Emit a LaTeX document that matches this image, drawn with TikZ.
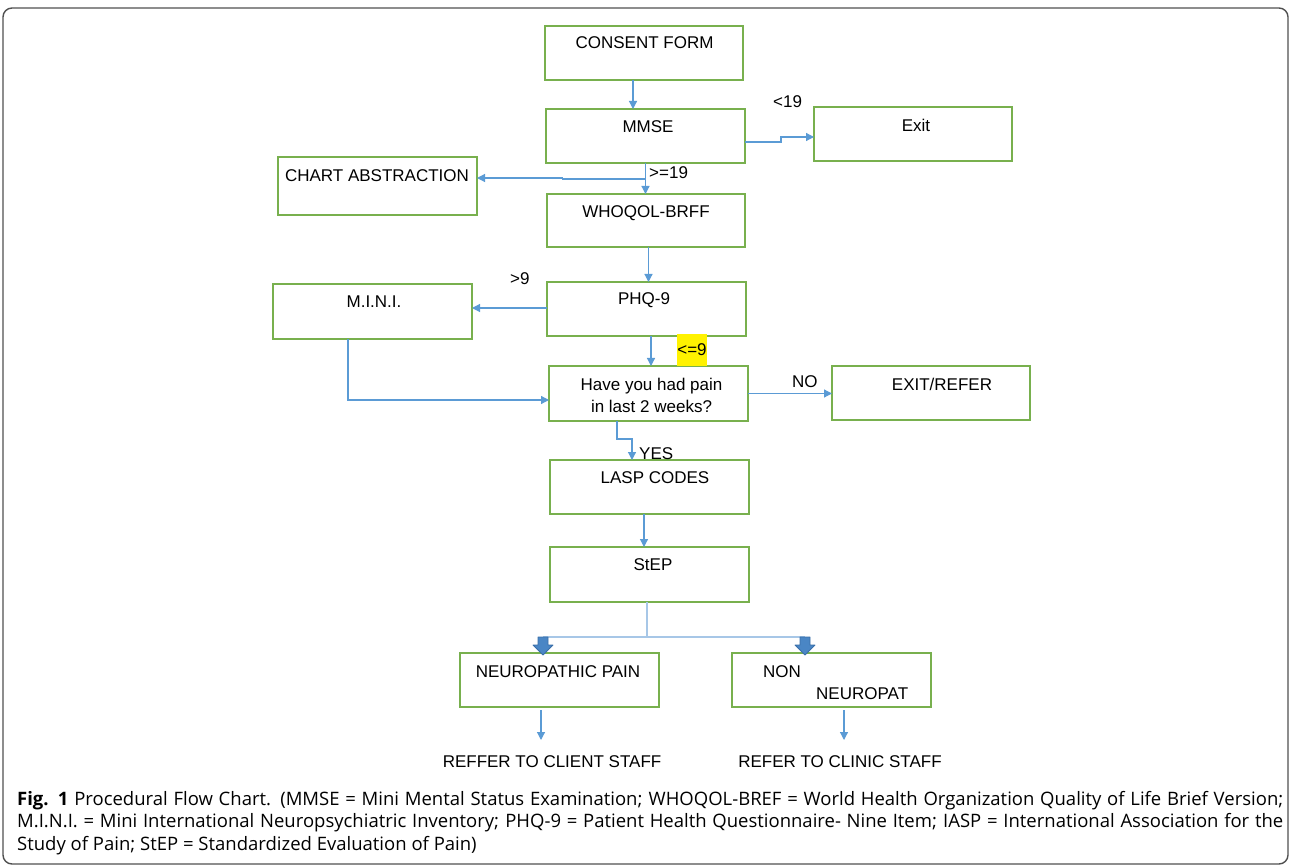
\documentclass[tikz,border=0pt]{standalone}
\usepackage{fontspec}
\setmainfont{Liberation Sans}
\newfontfamily\capfont{Open Sans}
\usetikzlibrary{arrows.meta,calc}
\definecolor{boxgreen}{HTML}{78B04E}
\definecolor{arrblue}{HTML}{5B9BD5}
\definecolor{lineblue}{HTML}{A7C7E7}
\definecolor{blockblue}{HTML}{4A86C5}
\definecolor{blockedge}{HTML}{3A6EA8}
\definecolor{framegray}{HTML}{505050}
\newcommand\mkbox[5]{\node[box, minimum width={#4-#2}, minimum height={#5-#3}] (#1) at ({(#2+#4)/2},{(#3+#5)/2}) {};}
\begin{document}
\begin{tikzpicture}[x=1pt,y=-1pt,
  box/.style={draw=boxgreen, line width=1.6pt, rectangle, inner sep=0pt, outer sep=0pt},
  txt/.style={font=\fontsize{17}{22}\selectfont, inner sep=0pt, anchor=base},
  ltxt/.style={txt, anchor=base west},
  arr/.style={draw=arrblue, line width=1.2pt, -{Triangle[length=8pt,width=8pt]}},
  thinln/.style={draw=lineblue, line width=1.4pt},
  blockarr/.style={fill=blockblue, draw=blockedge, line width=0.8pt, line join=round}
]
\useasboundingbox (0,0) rectangle (1290,866);
\draw[framegray, line width=1.4pt, rounded corners=9pt] (3,8) rectangle (1288,864);

% boxes
\mkbox{consent}{545}{26}{743}{80}
\mkbox{mmse}{546}{109}{745}{163}
\mkbox{exitb}{814}{107}{1012}{161}
\mkbox{chart}{278}{157}{477}{215}
\mkbox{whoqol}{547}{194}{745}{247}
\mkbox{phq}{547}{282}{746}{336}
\mkbox{mini}{273}{284}{472}{339}
\mkbox{pain}{549}{366}{748}{421}
\mkbox{exitref}{832}{366}{1030}{420}
\mkbox{lasp}{550}{460}{749}{514}
\mkbox{stepb}{550}{547}{749}{602}
\mkbox{neuro}{460}{653}{659}{707}
\mkbox{nonneuro}{732}{653}{931}{707}

% box texts
\node[txt] (consentT) at (644.5,49) {CONSENT FORM};
\node[txt] (mmseT) at (648,133) {MMSE};
\node[txt] (exitT) at (916,132) {Exit};
\node[txt] (chartT) at (377,182) {CHART ABSTRACTION};
\node[txt] (whoqolT) at (646,218) {WHOQOL-BRFF};
\node[txt] (phqT) at (644,305) {PHQ-9};
\node[txt] (miniT) at (374,308) {M.I.N.I.};
\node[txt, anchor=center, align=center] (painT) at (651.5,395.5) {Have you had pain\\ in last 2 weeks?};
\node[txt] (exitrefT) at (942,390) {EXIT/REFER};
\node[txt] (laspT) at (655,483) {LASP CODES};
\node[txt] (stepT) at (653,570) {StEP};
\node[txt] (neuroT) at (558,677) {NEUROPATHIC PAIN};
\node[ltxt] (nonT) at (763,677) {NON};
\node[ltxt] (neuropatT) at (816,699) {NEUROPAT};
\node[txt] (reffer) at (552,767) {REFFER TO CLIENT STAFF};
\node[txt] (refer) at (840,767) {REFER TO CLINIC STAFF};

% edge labels
\node[ltxt] (lt19) at (773,108) {<19};
\node[ltxt] (ge19) at (649,179) {>=19};
\node[ltxt] (gt9) at (510,285) {>9};
\node[fill=yellow, inner sep=0pt, minimum width=26, minimum height=32,
      font=\fontsize{17}{22}\selectfont] (le9) at (692,350) {<=9};
\node[ltxt] (yes) at (639,459) {YES};
\node[ltxt] (no) at (792,388) {NO};

% connectors
\draw[arr] ([xshift=-11pt]consent.south) -- ([xshift=-11pt]consent.south |- mmse.north);
\draw[arr] ([yshift=-6pt]mmse.east) -- ++(36,0) -- ++(0,-5) -- ([yshift=-3pt]exitb.west);
\draw[arr] (mmse.south) -- (mmse.south |- whoqol.north);
\draw[arr] ([yshift=-16pt]mmse.south) -- ++(-83,0) -- ++(0,-1) -- ([yshift=8pt]chart.east);
\draw[arr] ([xshift=2.5pt]whoqol.south) -- ([xshift=2.5pt]whoqol.south |- phq.north);
\draw[arr] ([yshift=1pt]phq.west) -- ([yshift=1pt]phq.west -| mini.east);
\draw[arr] ([xshift=4.5pt]phq.south) -- ([xshift=4.5pt]phq.south |- pain.north);
\draw[arr] ([xshift=-24.5pt]mini.south) |- ([yshift=-6.5pt]pain.west);
\draw[arr] (pain.east) -- (pain.east -| exitref.west);
\draw[arr] ([xshift=-31.5pt]pain.south) -- ++(0,18) -- ++(15,0) -- ([xshift=-17.5pt]lasp.north);
\draw[arr] ([xshift=-5.5pt]lasp.south) -- ([xshift=-5.5pt]lasp.south |- stepb.north);

% split from StEP
\draw[thinln] ([xshift=-2.5pt]stepb.south) -- ++(0,35) coordinate (j);
\coordinate (jl) at ([xshift=-16.5pt]neuro.north |- j);
\coordinate (jr) at ([xshift=-26.5pt]nonneuro.north |- j);
\draw[thinln] (jl) -- (jr);
\filldraw[blockarr] ([xshift=-5pt]jl) -- ++(10,0) -- ++(0,8) -- ++(5,0) -- ++(-10,10) -- ++(-10,-10) -- ++(5,0) -- cycle;
\filldraw[blockarr] ([xshift=-5pt]jr) -- ++(10,0) -- ++(0,8) -- ++(5,0) -- ++(-10,10) -- ++(-10,-10) -- ++(5,0) -- cycle;

\draw[arr] ([xshift=-18.5pt,yshift=-3pt]neuro.south) -- ++(0,30);
\draw[arr] ([xshift=12.5pt,yshift=-3pt]nonneuro.south) -- ++(0,30);

% caption
\node[anchor=north west, inner sep=0pt, text width=1266pt, align=justify,
      font=\capfont\fontsize{18.5}{22.5}\selectfont] (caption) at (17,791)
 {\textbf{Fig. 1} Procedural Flow Chart. (MMSE = Mini Mental Status Examination; WHOQOL-BREF = World Health Organization Quality of Life Brief Version;\linebreak
 M.I.N.I. = Mini International Neuropsychiatric Inventory; PHQ-9 = Patient Health Questionnaire- Nine Item; IASP = International Association for the\linebreak
 Study of Pain; StEP = Standardized Evaluation of Pain)};
\end{tikzpicture}
\end{document}
